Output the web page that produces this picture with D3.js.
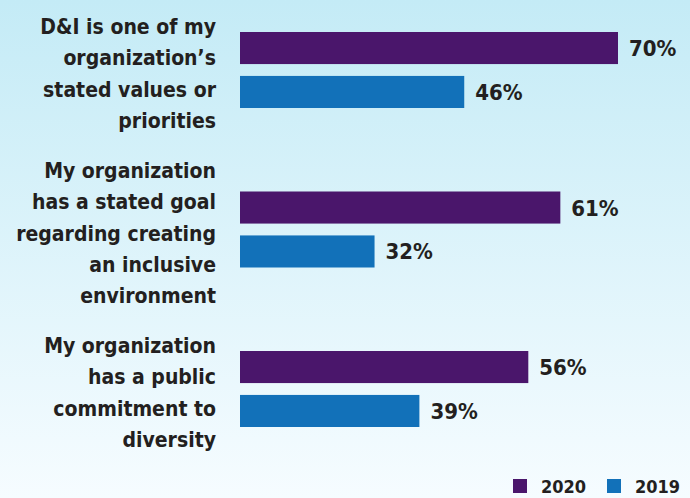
<!DOCTYPE html>
<html>
<head>
<meta charset="utf-8">
<script src="https://cdn.jsdelivr.net/npm/d3@7"></script>
<style>
  body { margin: 0; }
  text { font-family: "DejaVu Sans Condensed", "DejaVu Sans", sans-serif; font-weight: bold; fill: #231f20; }
</style>
</head>
<body>
<div id="chart"></div>
<script>
// Data
const categories = [
    ["D&I is one of my", "organization’s", "stated values or", "priorities"],
    ["My organization", "has a stated goal", "regarding creating", "an inclusive", "environment"],
    ["My organization", "has a public", "commitment to", "diversity"]
];
const years = ["2020", "2019"];
const values2020 = [70, 61, 56];
const values2019 = [46, 32, 39];
const colors = { "2020": "#4a166b", "2019": "#1271b9" };

const svgWidth = 690;
const svgHeight = 498;
const lineHeight = 31.3;

const svg = d3.select("#chart").append("svg")
    .attr("width", svgWidth)
    .attr("height", svgHeight);

// Background gradient
const grad = svg.append("defs").append("linearGradient")
    .attr("id", "bg")
    .attr("x1", 0).attr("y1", 0).attr("x2", 0).attr("y2", 1);
grad.append("stop").attr("offset", "0%").attr("stop-color", "#c4ebf6");
grad.append("stop").attr("offset", "100%").attr("stop-color", "#f6fcff");

svg.append("rect")
    .attr("width", svgWidth)
    .attr("height", svgHeight)
    .attr("fill", "url(#bg)");

// Scales
const rows = categories.map((c, i) => ({
    lines: c,
    "2020": values2020[i],
    "2019": values2019[i]
}));

const yGroup = d3.scalePoint()
    .domain(d3.range(categories.length))
    .range([70, 389]);

const yInner = d3.scaleBand()
    .domain(years)
    .range([-38, 38])
    .paddingInner(0.27);

const xScale = d3.scaleLinear()
    .domain([11, 70])
    .range([240, 618]);

const groups = svg.selectAll(".group")
    .data(rows)
    .enter()
    .append("g")
    .attr("class", "group")
    .attr("transform", (d, i) => `translate(0, ${yGroup(i)})`);

// Category labels
groups.append("text")
    .attr("text-anchor", "end")
    .style("font-size", "21px")
    .each(function(d) {
        const t = d3.select(this);
        const first = 11 - (d.lines.length - 1) / 2 * lineHeight;
        d.lines.forEach((line, j) => {
            t.append("tspan")
                .attr("x", 216)
                .attr("y", first + j * lineHeight)
                .text(line);
        });
    });

// Bars
groups.selectAll(".bar")
    .data(d => years.map(y => ({ year: y, value: d[y] })))
    .enter()
    .append("rect")
    .attr("class", "bar")
    .attr("x", xScale.range()[0])
    .attr("y", d => yInner(d.year))
    .attr("width", d => xScale(d.value) - xScale.range()[0])
    .attr("height", yInner.bandwidth())
    .attr("fill", d => colors[d.year]);

// Value labels
groups.selectAll(".value")
    .data(d => years.map(y => ({ year: y, value: d[y] })))
    .enter()
    .append("text")
    .attr("class", "value")
    .attr("x", d => xScale(d.value) + 11)
    .attr("y", d => yInner(d.year) + yInner.bandwidth() / 2 + 8)
    .style("font-size", "22px")
    .text(d => d.value + "%");

// Legend
const legend = svg.append("g")
    .attr("transform", "translate(513, 479)");

const legendItems = legend.selectAll(".legend-item")
    .data(years)
    .enter()
    .append("g")
    .attr("class", "legend-item")
    .attr("transform", (d, i) => `translate(${i * 94}, 0)`);

legendItems.append("rect")
    .attr("width", 14)
    .attr("height", 14)
    .attr("fill", d => colors[d]);

legendItems.append("text")
    .attr("x", 28)
    .attr("y", 14)
    .style("font-size", "18px")
    .text(d => d);
</script>
</body>
</html>
